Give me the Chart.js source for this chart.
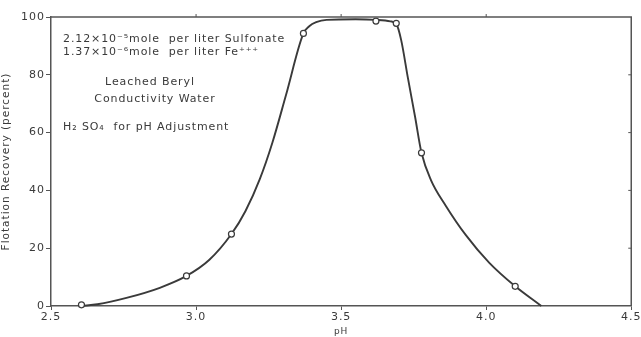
<!DOCTYPE html>
<html lang="en">
<head>
    <meta charset="UTF-8" />
    <title>Flotation Recovery vs pH</title>
    <style>
        body {
            margin: 0;
            padding: 0;
            background-color: #fff;
        }
        .chart-box {
            width: 641px;
            height: 337px;
        }
    </style>
    <script src="https://cdn.jsdelivr.net/npm/chart.js"></script>
</head>
<body>
    <div class="chart-box">
        <canvas id="chart" width="641" height="337"></canvas>
    </div>
    <script>
        // smooth curve
        const curvePH = [2.605, 2.66, 2.76, 2.875, 2.967, 3.046, 3.122, 3.17, 3.22, 3.263, 3.31, 3.37, 3.39, 3.414, 3.45, 3.55, 3.62, 3.67, 3.69, 3.707, 3.73, 3.755, 3.777, 3.81, 3.86, 3.93, 4.01, 4.10, 4.19];
        const curveRecovery = [0, 0.6, 2.8, 6.3, 10.4, 16.0, 24.9, 32.8, 44, 56.5, 73, 94.3, 96.8, 98.2, 99, 99.2, 99, 98.5, 97.6, 92, 79, 65.4, 53, 43.5, 34.8, 24.5, 15.0, 6.8, 0];

        // measured points (open circles)
        const pointPH = [2.605, 2.967, 3.122, 3.37, 3.62, 3.69, 3.777, 4.10];
        const pointRecovery = [0.4, 10.4, 24.9, 94.3, 98.6, 97.8, 53, 6.8];

        const xTicks = [2.5, 3.0, 3.5, 4.0, 4.5];
        const yTicks = [0, 20, 40, 60, 80, 100];

        const ink = "#3a3a3a";

        // text notes inside the plot
        const notes = [
            { text: "2.12×10⁻⁵mole  per liter Sulfonate", x: 63, y: 42, align: "left" },
            { text: "1.37×10⁻⁶mole  per liter Fe⁺⁺⁺", x: 63, y: 55, align: "left" },
            { text: "Leached Beryl", x: 150, y: 85, align: "center" },
            { text: "Conductivity Water", x: 155, y: 102, align: "center" },
            { text: "H₂ SO₄  for pH Adjustment", x: 63, y: 130, align: "left" },
        ];

        // letter-spaced lettering like the original drawing
        const spacingPlugin = {
            id: "spacing",
            beforeDraw(chart) {
                chart.ctx.letterSpacing = "1px";
            },
        };

        const framePlugin = {
            id: "frame",
            afterDraw(chart) {
                const { ctx, chartArea: a, scales } = chart;
                ctx.save();
                ctx.strokeStyle = "#555";
                ctx.lineWidth = 1.5;
                ctx.beginPath();
                ctx.moveTo(a.left, a.top);
                ctx.lineTo(a.right, a.top);
                ctx.lineTo(a.right, a.bottom);
                ctx.stroke();
                // small ticks on top and right edges
                ctx.lineWidth = 1;
                [3.0, 3.5, 4.0].forEach((v) => {
                    const px = scales.x.getPixelForValue(v);
                    ctx.beginPath();
                    ctx.moveTo(px, a.top);
                    ctx.lineTo(px, a.top - 3);
                    ctx.stroke();
                });
                [20, 40, 60, 80].forEach((v) => {
                    const py = scales.y.getPixelForValue(v);
                    ctx.beginPath();
                    ctx.moveTo(a.right, py);
                    ctx.lineTo(a.right - 3, py);
                    ctx.stroke();
                });
                // notes
                ctx.fillStyle = ink;
                ctx.font = "11px 'DejaVu Sans'";
                ctx.letterSpacing = "0.9px";
                ctx.textBaseline = "alphabetic";
                notes.forEach((n) => {
                    ctx.textAlign = n.align;
                    ctx.fillText(n.text, n.x, n.y);
                });
                ctx.restore();
            },
        };

        new Chart(document.getElementById("chart"), {
            type: "scatter",
            data: {
                datasets: [
                    {
                        label: "curve",
                        data: curvePH.map((x, i) => ({ x: x, y: curveRecovery[i] })),
                        showLine: true,
                        borderColor: ink,
                        borderWidth: 1.9,
                        pointRadius: 0,
                        cubicInterpolationMode: "monotone",
                        order: 2,
                    },
                    {
                        label: "points",
                        data: pointPH.map((x, i) => ({ x: x, y: pointRecovery[i] })),
                        showLine: false,
                        pointRadius: 3,
                        pointBorderWidth: 1.2,
                        pointBackgroundColor: "#fff",
                        pointBorderColor: ink,
                        order: 1,
                    },
                ],
            },
            options: {
                responsive: false,
                animation: false,
                clip: false,
                layout: { padding: { left: 0, top: 17, right: 8, bottom: 0 } },
                plugins: {
                    legend: { display: false },
                    tooltip: { enabled: false },
                },
                scales: {
                    x: {
                        type: "linear",
                        min: 2.5,
                        max: 4.5,
                        afterBuildTicks: (scale) => {
                            scale.ticks = xTicks.map((v) => ({ value: v }));
                        },
                        afterFit: (scale) => {
                            scale.height = 31;
                        },
                        grid: {
                            drawOnChartArea: false,
                            tickLength: 4,
                            color: "#555",
                        },
                        border: { color: "#555", width: 1.5 },
                        ticks: {
                            color: ink,
                            font: { family: "DejaVu Sans", size: 11 },
                            padding: 1,
                            maxRotation: 0,
                            callback: (v) => v.toFixed(1),
                        },
                        title: {
                            display: true,
                            text: "pH",
                            color: ink,
                            font: { family: "DejaVu Sans", size: 9 },
                            padding: { top: -3, bottom: 0 },
                        },
                    },
                    y: {
                        type: "linear",
                        min: 0,
                        max: 100,
                        afterBuildTicks: (scale) => {
                            scale.ticks = yTicks.map((v) => ({ value: v }));
                        },
                        afterFit: (scale) => {
                            scale.width = 51;
                        },
                        grid: {
                            drawOnChartArea: false,
                            tickLength: 5,
                            color: "#555",
                        },
                        border: { color: "#555", width: 1.5 },
                        ticks: {
                            color: ink,
                            font: { family: "DejaVu Sans", size: 11 },
                            padding: 1,
                        },
                        title: {
                            display: true,
                            text: "Flotation Recovery (percent)",
                            color: ink,
                            font: { family: "DejaVu Sans", size: 10.5 },
                            padding: { top: 0, bottom: 0 },
                        },
                    },
                },
            },
            plugins: [spacingPlugin, framePlugin],
        });
    </script>
</body>
</html>
